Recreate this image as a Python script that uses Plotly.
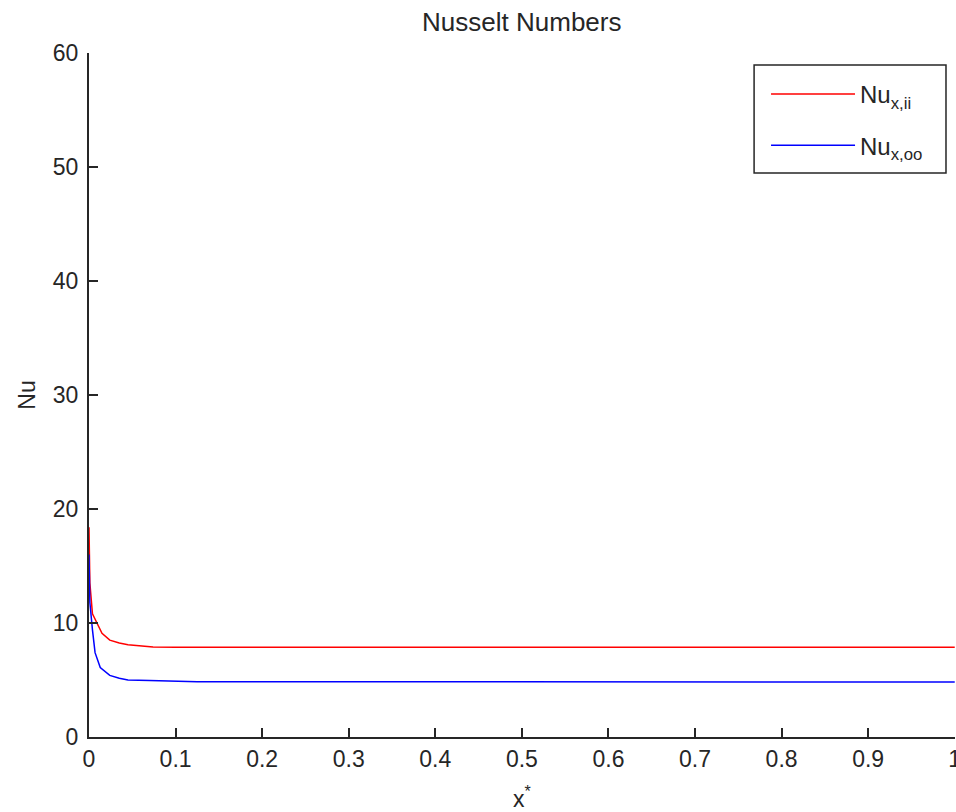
import plotly.graph_objects as go

x_ii = [0.0, 0.001, 0.004, 0.009, 0.015, 0.024, 0.035, 0.045, 0.06, 0.074, 0.1, 0.2, 0.4, 0.6, 0.8, 1.0]
nu_ii = [18.4, 13.5, 10.8, 10.0, 9.1, 8.5, 8.25, 8.1, 8.0, 7.9, 7.88, 7.87, 7.87, 7.87, 7.87, 7.87]

x_oo = [0.0, 0.001, 0.004, 0.007, 0.013, 0.024, 0.035, 0.045, 0.07, 0.125, 0.2, 0.4, 0.6, 0.8, 1.0]
nu_oo = [16.0, 11.8, 9.4, 7.4, 6.1, 5.4, 5.15, 5.0, 4.95, 4.85, 4.84, 4.83, 4.83, 4.83, 4.83]

x_ticks = [0, 0.1, 0.2, 0.3, 0.4, 0.5, 0.6, 0.7, 0.8, 0.9, 1]
x_labels = ["0", "0.1", "0.2", "0.3", "0.4", "0.5", "0.6", "0.7", "0.8", "0.9", "1"]
y_ticks = [0, 10, 20, 30, 40, 50, 60]

font = "Liberation Sans, Arial, sans-serif"
ink = "#262626"

fig = go.Figure()
fig.add_trace(go.Scatter(x=x_ii, y=nu_ii, mode="lines", name="Nu<sub>x,ii</sub>",
                         legendgroup="a", line=dict(color="#ff0000", width=1.5)))
fig.add_trace(go.Scatter(x=x_oo, y=nu_oo, mode="lines", name="Nu<sub>x,oo</sub>",
                         legendgroup="b", line=dict(color="#0000ff", width=1.5)))

# legend frame
fig.add_shape(type="rect", xref="paper", yref="paper",
              x0=0.768, x1=0.9896, y0=0.8246, y1=0.9825,
              line=dict(color=ink, width=1.5), fillcolor="white", layer="above")

fig.update_layout(
    width=956, height=812,
    margin=dict(l=89, r=1, t=53, b=75),
    paper_bgcolor="white", plot_bgcolor="white",
    font=dict(family=font, size=23, color=ink),
    title=dict(text="Nusselt Numbers", x=0.5458, xanchor="center", y=0.973, yanchor="middle",
               font=dict(size=26, color=ink)),
    showlegend=True,
    legend=dict(x=0.7818, xanchor="left", y=0.9722, yanchor="top",
                borderwidth=0, bgcolor="rgba(0,0,0,0)",
                font=dict(size=24), itemwidth=84, tracegroupgap=17),
    xaxis=dict(range=[0, 1.0003], tickvals=x_ticks, ticktext=x_labels,
               showgrid=False, zeroline=False, showline=True, linecolor=ink, linewidth=2,
               ticks="inside", ticklen=9, tickwidth=2, tickcolor=ink,
               ticklabeloverflow="allow", automargin=False,
               title=dict(text="x<sup>*</sup>", standoff=25, font=dict(size=23)),
               ticklabelstandoff=0),
    yaxis=dict(range=[0, 60], tickvals=y_ticks, automargin=False,
               showgrid=False, zeroline=False, showline=True, linecolor=ink, linewidth=2,
               ticks="inside", ticklen=9, tickwidth=2, tickcolor=ink,
               title=dict(text="Nu", standoff=11, font=dict(size=23)),
               ticklabelstandoff=4),
)

fig.write_html("out.html")
